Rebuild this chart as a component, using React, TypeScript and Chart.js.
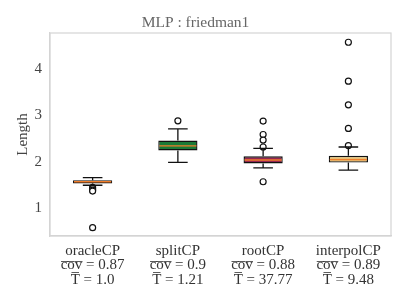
import React, { useEffect, useRef } from "react";
import { Chart, registerables } from "chart.js";

Chart.register(...registerables);

const categories = ["oracleCP", "splitCP", "rootCP", "interpolCP"];
const coverage = ["0.87", "0.9", "0.88", "0.89"];
const times = ["1.0", "1.21", "37.77", "9.48"];

const q1 = [1.535, 2.245, 1.965, 1.985];
const median = [1.57, 2.345, 2.04, 2.05];
const q3 = [1.605, 2.46, 2.12, 2.13];
const whiskerLow = [1.495, 1.99, 1.87, 1.82];
const whiskerHigh = [1.66, 2.71, 2.29, 2.32];
const outliers = [
  [1.45, 1.42, 1.39, 1.37, 0.58],
  [2.885],
  [2.88, 2.59, 2.47, 2.32, 1.57],
  [4.58, 3.74, 3.23, 2.72, 2.35],
];
const yTicks = [1, 2, 3, 4];
const yMin = 0.4;
const yMax = 4.78;

const boxColors = ["#9ecae1", "#1b7a36", "#962650", "#e6c074"];
const medianColor = "#f07e2c";

const overline = (s: string) =>
  s
    .split("")
    .map((c) => c + "\u0305")
    .join("");

const boxPlugin = {
  id: "boxWhiskers",
  afterDatasetDraw(chart: any, args: any) {
    if (args.index !== 0) return;
    const ctx = chart.ctx;
    const xs = chart.scales.x;
    const ys = chart.scales.y;
    const meta = chart.getDatasetMeta(0);
    ctx.save();
    categories.forEach((_, i) => {
      const bar = meta.data[i];
      const x = xs.getPixelForValue(i);
      const hw = bar.width / 2;
      const cw = hw / 2;
      ctx.strokeStyle = "#111";
      ctx.lineWidth = 1.3;
      ctx.beginPath();
      ctx.moveTo(x, ys.getPixelForValue(q3[i]));
      ctx.lineTo(x, ys.getPixelForValue(whiskerHigh[i]));
      ctx.moveTo(x, ys.getPixelForValue(q1[i]));
      ctx.lineTo(x, ys.getPixelForValue(whiskerLow[i]));
      ctx.moveTo(x - cw, ys.getPixelForValue(whiskerHigh[i]));
      ctx.lineTo(x + cw, ys.getPixelForValue(whiskerHigh[i]));
      ctx.moveTo(x - cw, ys.getPixelForValue(whiskerLow[i]));
      ctx.lineTo(x + cw, ys.getPixelForValue(whiskerLow[i]));
      ctx.stroke();
      ctx.strokeStyle = medianColor;
      ctx.lineWidth = 1.3;
      ctx.beginPath();
      ctx.moveTo(x - hw + 1, ys.getPixelForValue(median[i]));
      ctx.lineTo(x + hw - 1, ys.getPixelForValue(median[i]));
      ctx.stroke();
    });
    ctx.restore();
  },
};

export default function App() {
  const ref = useRef<HTMLCanvasElement>(null);
  useEffect(() => {
    if (!ref.current) return;
    const outlierData: { x: string; y: number }[] = [];
    outliers.forEach((arr, i) => arr.forEach((v) => outlierData.push({ x: categories[i], y: v })));
    const chart = new Chart(ref.current, {
      type: "bar",
      data: {
        labels: categories,
        datasets: [
          {
            type: "bar",
            data: categories.map((_, i) => [q1[i], q3[i]]),
            backgroundColor: boxColors,
            borderColor: "#111",
            borderWidth: 1.4,
            borderSkipped: false,
            barPercentage: 0.46,
            categoryPercentage: 1,
          } as any,
          {
            type: "scatter",
            data: outlierData,
            pointRadius: 3,
            pointBackgroundColor: "#ffffff",
            pointBorderColor: "#111",
            pointBorderWidth: 1.2,
            showLine: false,
          } as any,
        ],
      },
      options: {
        responsive: false,
        animation: false,
        layout: { padding: { top: 0, right: 16, bottom: 0, left: 0 } },
        plugins: {
          legend: { display: false },
          tooltip: { enabled: false },
          title: {
            display: true,
            text: "MLP : friedman1",
            color: "#666",
            font: { family: "Liberation Serif", size: 15.5, weight: "normal", lineHeight: 1 },
            padding: { top: 15, bottom: 2.5 },
          },
        },
        scales: {
          x: {
            type: "category",
            offset: true,
            grid: { display: false, drawTicks: false },
            border: { display: true, color: "#d4d4d4", width: 1.2 },
            ticks: {
              color: "#333",
              font: { family: "Liberation Serif", size: 15, lineHeight: 0.95 },
              padding: 8,
              maxRotation: 0,
              autoSkip: false,
              callback: (_v: any, i: number) => [
                categories[i],
                overline("cov") + " = " + coverage[i],
                overline("T") + " = " + times[i],
              ],
            },
            afterFit: (s: any) => {
              s.height = 69;
            },
          },
          y: {
            type: "linear",
            min: yMin,
            max: yMax,
            grid: { display: false, drawTicks: false },
            border: { display: true, color: "#d4d4d4", width: 1.2 },
            afterBuildTicks: (s: any) => {
              s.ticks = yTicks.map((v) => ({ value: v }));
            },
            ticks: {
              color: "#444",
              font: { family: "Liberation Serif", size: 15 },
              padding: 8,
            },
            title: {
              display: true,
              text: "Length",
              color: "#444",
              font: { family: "Liberation Serif", size: 15 },
              padding: { top: 14, bottom: 0 },
            },
            afterFit: (s: any) => {
              s.width = 50;
            },
          },
        },
      },
      plugins: [
        boxPlugin,
        {
          id: "frame",
          afterDraw(c: any) {
            const { left, right, top, bottom } = c.chartArea;
            const ctx = c.ctx;
            ctx.save();
            ctx.strokeStyle = "#d4d4d4";
            ctx.lineWidth = 1.2;
            ctx.strokeRect(left, top, right - left, bottom - top);
            ctx.restore();
          },
        },
      ],
    });
    return () => chart.destroy();
  }, []);
  return (
    <div style={{ position: "absolute", left: 0, top: 0, width: 407, height: 305 }}>
      <canvas ref={ref} width={407} height={305} style={{ width: 407, height: 305 }} />
    </div>
  );
}
